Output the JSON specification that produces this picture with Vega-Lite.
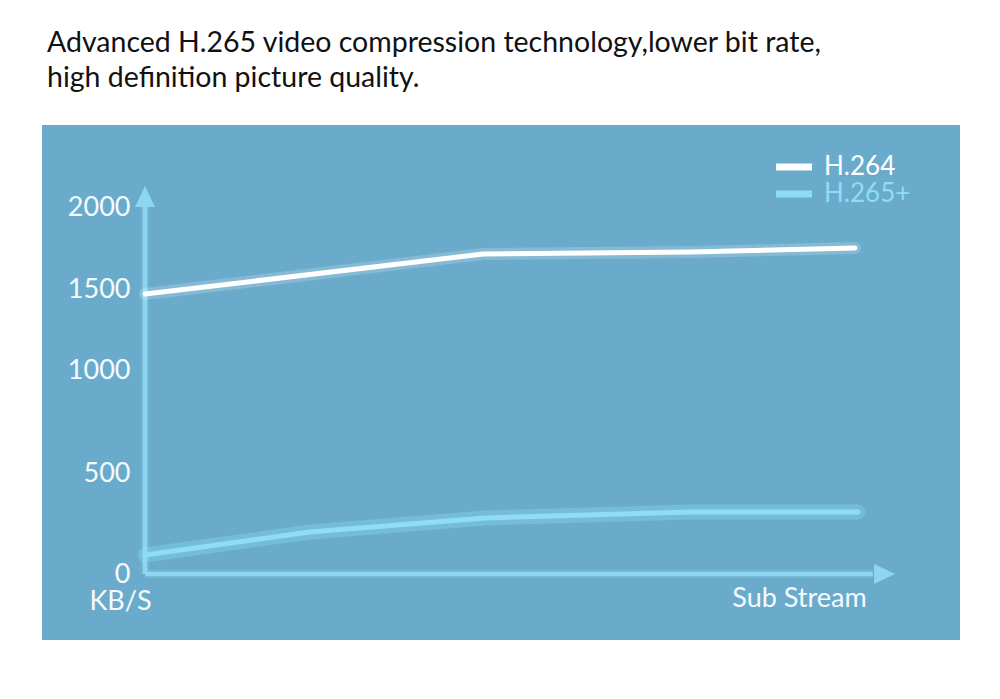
{
  "$schema": "https://vega.github.io/schema/vega-lite/v6.json",
  "width": 918,
  "height": 515,
  "autosize": {"type": "none"},
  "padding": {"left": 42, "top": 125, "right": 40, "bottom": 59},
  "background": "#ffffff",
  "title": {
    "text": ["Advanced H.265 video compression technology,lower bit rate,", "high definition picture quality."],
    "anchor": "start",
    "frame": "group",
    "orient": "top",
    "font": "Lato",
    "fontSize": 28.5,
    "fontWeight": "normal",
    "color": "#111111",
    "lineHeight": 35,
    "baseline": "bottom",
    "offset": 4,
    "dx": 5
  },
  "datasets": {
    "lines": [
      {"step": 0, "kbps": 1469, "series": "H.264"},
      {"step": 47.6, "kbps": 1713, "series": "H.264"},
      {"step": 76.8, "kbps": 1726, "series": "H.264"},
      {"step": 100, "kbps": 1750, "series": "H.264"},
      {"step": 0, "kbps": 94, "series": "H.265+"},
      {"step": 23.2, "kbps": 208, "series": "H.265+"},
      {"step": 47.9, "kbps": 277, "series": "H.265+"},
      {"step": 76.8, "kbps": 307, "series": "H.265+"},
      {"step": 100.4, "kbps": 307, "series": "H.265+"}
    ],
    "axislines": [
      {"step": 0, "step2": 0, "kbps": 0, "kbps2": 2000},
      {"step": 0, "step2": 102.5, "kbps": 0, "kbps2": 0}
    ],
    "arrows": [
      {"step": 0, "kbps": 2061, "dir": "up"},
      {"step": 104.1, "kbps": 0, "dir": "right"}
    ]
  },
  "encoding": {
    "x": {
      "field": "step",
      "type": "quantitative",
      "scale": {"domain": [0, 100], "range": [103, 813], "nice": false, "zero": false},
      "axis": {
        "title": "Sub Stream",
        "orient": "bottom",
        "offset": -65,
        "labels": false,
        "ticks": false,
        "domain": false,
        "grid": false,
        "titleFont": "Lato",
        "titleFontSize": 27,
        "titleFontWeight": "normal",
        "titleColor": "#f4fbfe",
        "titleX": 757,
        "titleY": 23,
        "titleAlign": "center",
        "titleBaseline": "middle",
        "titleAnchor": null
      }
    },
    "y": {
      "field": "kbps",
      "type": "quantitative",
      "scale": {"domain": [0, 500, 1000, 1500, 2000], "range": [449, 348, 245, 164, 82], "nice": false, "zero": false},
      "axis": {
        "title": "KB/S",
        "orient": "left",
        "offset": -103,
        "values": [0, 500, 1000, 1500, 2000],
        "format": "d",
        "ticks": false,
        "tickSize": 0,
        "domain": false,
        "grid": false,
        "labelPadding": 15,
        "labelFont": "Lato",
        "labelFontSize": 27,
        "labelColor": "#f4fbfe",
        "labelBaseline": "middle",
        "titleFont": "Lato",
        "titleFontSize": 27,
        "titleFontWeight": "normal",
        "titleColor": "#f4fbfe",
        "titleAngle": 0,
        "titleX": -25,
        "titleY": 476,
        "titleAlign": "center",
        "titleBaseline": "middle",
        "titleAnchor": null
      }
    }
  },
  "layer": [
    {
      "data": {"name": "axislines"},
      "mark": {"type": "rule", "color": "#8fd8f0", "strokeWidth": 9, "opacity": 0.18},
      "encoding": {"x2": {"field": "step2"}, "y2": {"field": "kbps2"}}
    },
    {
      "data": {"name": "axislines"},
      "mark": {"type": "rule", "color": "#8fd8f0", "strokeWidth": 4.5, "opacity": 0.95},
      "encoding": {"x2": {"field": "step2"}, "y2": {"field": "kbps2"}}
    },
    {
      "data": {"name": "arrows"},
      "mark": {"type": "point", "filled": true, "size": 400, "color": "#8fd8f0", "opacity": 0.95, "strokeWidth": 0},
      "encoding": {
        "shape": {"field": "dir", "type": "nominal", "scale": {"domain": ["up", "right"], "range": ["M0,-1.1L1,1L-1,1Z", "M1.1,0L-1,-1L-1,1Z"]}, "legend": null}
      }
    },
    {
      "data": {"name": "lines"},
      "transform": [{"filter": "datum.series === 'H.264'"}],
      "mark": {"type": "line", "color": "#ffffff", "strokeWidth": 12, "opacity": 0.18, "strokeCap": "round", "strokeJoin": "round"},
      "encoding": {}
    },
    {
      "data": {"name": "lines"},
      "transform": [{"filter": "datum.series === 'H.265+'"}],
      "mark": {"type": "line", "color": "#8fe3fa", "strokeWidth": 15, "opacity": 0.3, "strokeCap": "round", "strokeJoin": "round"},
      "encoding": {}
    },
    {
      "data": {"name": "lines"},
      "mark": {"type": "line", "strokeCap": "round", "strokeJoin": "round", "strokeWidth": 5},
      "encoding": {
        "color": {
          "field": "series",
          "type": "nominal",
          "scale": {"domain": ["H.264", "H.265+"], "range": ["#ffffff", "#8fdcf5"]},
          "legend": {
            "title": null,
            "orient": "none",
            "legendX": 739,
            "legendY": 29,
            "padding": 0,
            "rowPadding": -2,
            "symbolType": "M-3,0L3,0",
            "symbolSize": 144,
            "symbolStrokeWidth": 7,
            "labelOffset": 17,
            "labelFont": "Lato",
            "labelFontSize": 26,
            "labelBaseline": "middle",
            "encode": {
              "labels": {"update": {"fill": {"scale": "color", "field": "value"}}}
            }
          }
        }
      }
    }
  ],
  "config": {
    "view": {"fill": "#6aabcb", "stroke": null},
    "font": "Lato"
  }
}
